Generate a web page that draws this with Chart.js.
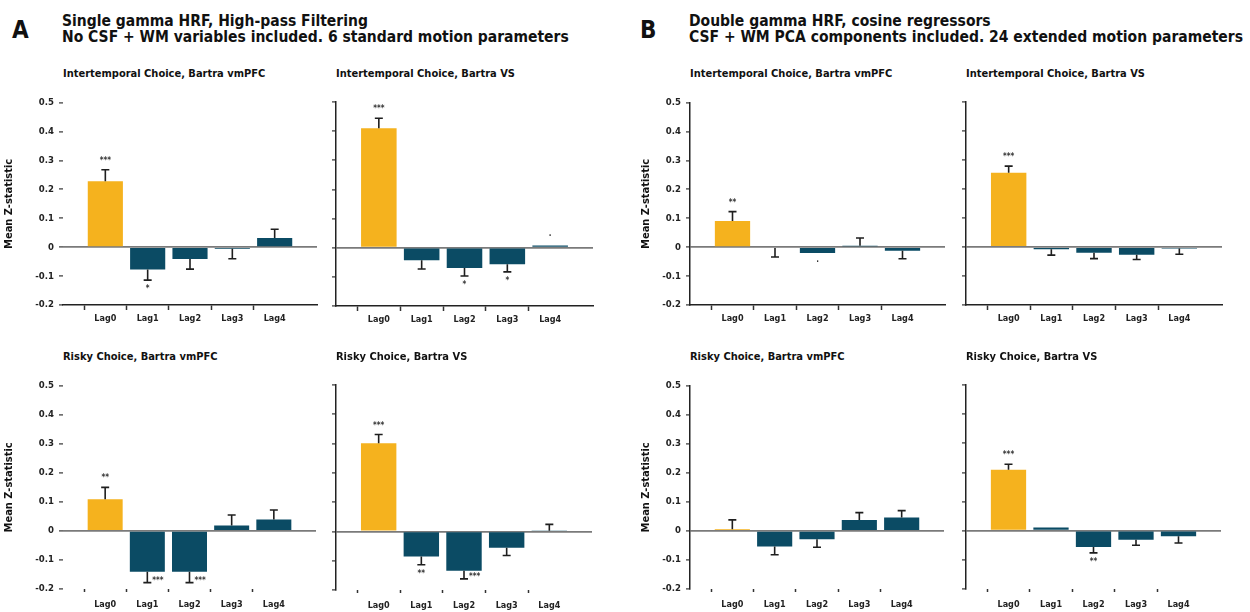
<!DOCTYPE html>
<html>
<head>
<meta charset="utf-8">
<script src="https://cdn.jsdelivr.net/npm/chart.js@4.4.0/dist/chart.umd.min.js"></script>
<style>
  body { margin: 0; background: #fff; width: 1250px; height: 612px; position: relative; overflow: hidden;
         font-family: "DejaVu Sans Condensed", "DejaVu Sans", sans-serif; color: #111; }
  .big { position: absolute; font-weight: bold; font-size: 24px; line-height: 24px; }
  .head { position: absolute; font-weight: bold; font-size: 15.5px; line-height: 16px; white-space: nowrap; }
  .sub { position: absolute; font-weight: bold; font-size: 11px; line-height: 12px; white-space: nowrap; }
  .panel { position: absolute; }
</style>
</head>
<body>
<div class="big" style="left:12px;top:18px">A</div>
<div class="head" style="left:62px;top:13px">Single gamma HRF, High-pass Filtering<br>No CSF + WM variables included. 6 standard motion parameters</div>
<div class="big" style="left:640px;top:18px">B</div>
<div class="head" style="left:689px;top:13px">Double gamma HRF, cosine regressors<br>CSF + WM PCA components included. 24 extended motion parameters</div>

<script>
const lags = ['Lag0', 'Lag1', 'Lag2', 'Lag3', 'Lag4'];
const yTicks = [-0.2, -0.1, 0, 0.1, 0.2, 0.3, 0.4, 0.5];

// A: single gamma HRF
const aItVmpfc = [0.228, -0.077, -0.041, -0.005, 0.032];
const aItVmpfcErr = [0.04, 0.037, 0.035, 0.035, 0.03];
const aItVmpfcStars = ['***', '*', '', '', ''];

const aItVs = [0.41, -0.043, -0.07, -0.057, 0.008];
const aItVsErr = [0.034, 0.03, 0.027, 0.026, 0];
const aItVsStars = ['***', '', '*', '*', '·'];

const aRiskVmpfc = [0.109, -0.141, -0.141, 0.019, 0.039];
const aRiskVmpfcErr = [0.041, 0.037, 0.037, 0.036, 0.033];
const aRiskVmpfcStars = ['**', '***', '***', '', ''];

const aRiskVs = [0.301, -0.086, -0.134, -0.056, 0.002];
const aRiskVsErr = [0.03, 0.028, 0.028, 0.026, 0.022];
const aRiskVsStars = ['***', '**', '***', '', ''];

// B: double gamma HRF
const bItVmpfc = [0.091, -0.003, -0.02, 0.005, -0.012];
const bItVmpfcErr = [0.032, 0.031, 0, 0.027, 0.028];
const bItVmpfcStars = ['**', '', '·', '', ''];

const bItVs = [0.256, -0.008, -0.02, -0.027, -0.005];
const bItVsErr = [0.023, 0.02, 0.02, 0.016, 0.02];
const bItVsStars = ['***', '', '', '', ''];

const bRiskVmpfc = [0.006, -0.054, -0.029, 0.038, 0.046];
const bRiskVmpfcErr = [0.032, 0.028, 0.027, 0.025, 0.024];
const bRiskVmpfcStars = ['', '', '', '', ''];

const bRiskVs = [0.209, 0.011, -0.056, -0.031, -0.019];
const bRiskVsErr = [0.019, 0, 0.02, 0.019, 0.023];
const bRiskVsStars = ['***', '', '**', '', ''];

const YELLOW = '#F5B21E';
const BLUE = '#0B4B64';

// one-sided error bars + significance stars
const errorBars = {
  id: 'errorBars',
  afterDatasetsDraw(chart) {
    const opts = chart.options.plugins.errorBars;
    const y = chart.scales.y;
    const ctx = chart.ctx;
    const meta = chart.getDatasetMeta(0);
    ctx.save();
    opts.values.forEach((v, i) => {
      const bar = meta.data[i + 1];
      const e = opts.errors[i];
      const end = v >= 0 ? v + e : v - e;
      const y0 = y.getPixelForValue(v);
      const y1 = y.getPixelForValue(end);
      if (e > 0) {
        ctx.strokeStyle = '#1e1e1e';
        ctx.lineWidth = 1.6;
        ctx.beginPath();
        ctx.moveTo(bar.x, y0);
        ctx.lineTo(bar.x, y1);
        ctx.moveTo(bar.x - 4, y1);
        ctx.lineTo(bar.x + 4, y1);
        ctx.stroke();
      }
      const s = opts.stars[i];
      if (!s) return;
      ctx.fillStyle = '#333';
      ctx.font = 'bold 8px "DejaVu Sans Condensed", sans-serif';
      ctx.textBaseline = 'middle';
      if (end < -0.15) {
        ctx.textAlign = 'left';
        ctx.fillText(s, bar.x + 5, y1 - 2);
      } else {
        ctx.textAlign = 'center';
        ctx.fillText(s, bar.x, v >= 0 ? y1 - 9 : y1 + 9);
      }
    });
    ctx.restore();
  }
};

const panels = [
  { left: 63, top: 102, w: 254, h: 203, yW: 60, ylab: true, yLine: false, xLine: true,
    title: 'Intertemporal Choice, Bartra vmPFC', vals: aItVmpfc, err: aItVmpfcErr, stars: aItVmpfcStars },
  { left: 336, top: 102, w: 257, h: 204, yW: 20, ylab: false, yLine: true, xLine: true,
    title: 'Intertemporal Choice, Bartra VS', vals: aItVs, err: aItVsErr, stars: aItVsStars },
  { left: 63, top: 385, w: 254, h: 204, yW: 60, ylab: true, yLine: false, xLine: false,
    title: 'Risky Choice, Bartra vmPFC', vals: aRiskVmpfc, err: aRiskVmpfcErr, stars: aRiskVmpfcStars },
  { left: 336, top: 385, w: 257, h: 205, yW: 20, ylab: false, yLine: true, xLine: false,
    title: 'Risky Choice, Bartra VS', vals: aRiskVs, err: aRiskVsErr, stars: aRiskVsStars },
  { left: 690, top: 102, w: 255, h: 203, yW: 50, ylab: true, yLine: true, xLine: true,
    title: 'Intertemporal Choice, Bartra vmPFC', vals: bItVmpfc, err: bItVmpfcErr, stars: bItVmpfcStars },
  { left: 966, top: 102, w: 256, h: 203, yW: 20, ylab: false, yLine: true, xLine: true,
    title: 'Intertemporal Choice, Bartra VS', vals: bItVs, err: bItVsErr, stars: bItVsStars },
  { left: 690, top: 385, w: 255, h: 204, yW: 50, ylab: true, yLine: true, xLine: false,
    title: 'Risky Choice, Bartra vmPFC', vals: bRiskVmpfc, err: bRiskVmpfcErr, stars: bRiskVmpfcStars },
  { left: 966, top: 385, w: 256, h: 204, yW: 20, ylab: false, yLine: true, xLine: false,
    title: 'Risky Choice, Bartra VS', vals: bRiskVs, err: bRiskVsErr, stars: bRiskVsStars }
];

const padTop = 10, padRight = 6, xH = 26;

panels.forEach(p => {
  const sub = document.createElement('div');
  sub.className = 'sub';
  sub.style.left = p.left + 'px';
  sub.style.top = (p.top - 34) + 'px';
  sub.textContent = p.title;
  document.body.appendChild(sub);

  const box = document.createElement('div');
  box.className = 'panel';
  const cw = p.w + p.yW + padRight, ch = p.h + padTop + xH;
  box.style.left = (p.left - p.yW) + 'px';
  box.style.top = (p.top - padTop) + 'px';
  box.style.width = cw + 'px';
  box.style.height = ch + 'px';
  const canvas = document.createElement('canvas');
  box.appendChild(canvas);
  document.body.appendChild(box);

  const top = p.top < 200;
  new Chart(canvas, {
    type: 'bar',
    data: {
      labels: ['', ...lags, ''],
      datasets: [{
        data: [null, ...p.vals, null],
        backgroundColor: ctx => ctx.dataIndex === 1 ? YELLOW : BLUE,
        categoryPercentage: 1,
        barPercentage: 0.83
      }]
    },
    options: {
      responsive: true,
      maintainAspectRatio: false,
      animation: false,
      layout: { padding: { top: padTop, right: padRight, left: 0, bottom: 0 } },
      plugins: {
        legend: { display: false },
        tooltip: { enabled: false },
        errorBars: { values: p.vals, errors: p.err, stars: p.stars }
      },
      scales: {
        x: {
          offset: false,
          afterFit: s => { s.height = xH; },
          border: { display: p.xLine, color: '#222', width: 1.5 },
          grid: {
            drawOnChartArea: false,
            tickLength: top ? 5 : 3,
            tickWidth: 1.5,
            tickColor: c => (c.index === 0 || c.index === 6) ? 'rgba(0,0,0,0)' : '#333'
          },
          ticks: {
            autoSkip: false,
            maxRotation: 0,
            padding: top ? 3 : 7,
            color: '#222',
            font: { family: '"DejaVu Sans Condensed", sans-serif', size: 9, weight: 'bold' }
          }
        },
        y: {
          min: -0.2,
          max: 0.5,
          afterFit: s => { s.width = p.yW; },
          afterBuildTicks: s => { s.ticks = yTicks.map(v => ({ value: v })); },
          border: { display: p.yLine, color: '#222', width: 1.5 },
          grid: {
            color: c => (c.tick && Math.abs(c.tick.value) < 1e-9) ? '#7a7a7a' : 'rgba(0,0,0,0)',
            lineWidth: 1.8,
            tickLength: 4,
            tickWidth: 1.2,
            tickColor: '#333'
          },
          ticks: {
            display: p.ylab,
            padding: 5,
            color: '#222',
            font: { family: '"DejaVu Sans Condensed", sans-serif', size: 9.5, weight: 'bold' },
            callback: v => Math.abs(v) < 1e-9 ? '0' : v.toFixed(1)
          },
          title: {
            display: p.ylab,
            text: 'Mean Z-statistic',
            color: '#111',
            padding: { top: 0, bottom: 4 },
            font: { family: '"DejaVu Sans Condensed", sans-serif', size: 11, weight: 'bold' }
          }
        }
      }
    },
    plugins: [errorBars]
  });
});
</script>
</body>
</html>
